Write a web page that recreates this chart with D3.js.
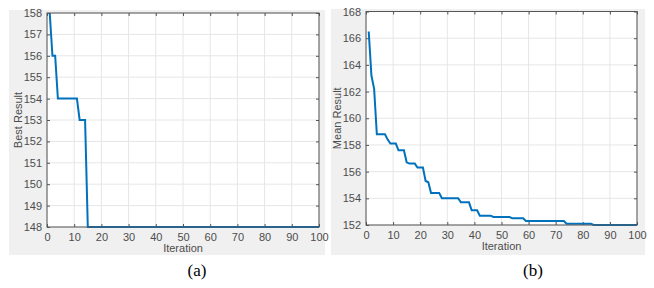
<!DOCTYPE html>
<html>
<head>
<meta charset="utf-8">
<script src="https://cdn.jsdelivr.net/npm/d3@7"></script>
<style>
  body { margin: 0; background: #fff; }
  svg text { font-family: Arial, "Liberation Sans", sans-serif; }
</style>
</head>
<body>
<div id="chart"></div>
<script>
const width = 654;
const height = 288;

// iteration numbers 1..100
const iterations = d3.range(1, 101);

// best result: step changes
const bestSteps = [[1, 158], [2, 156], [4, 154], [12, 153], [15, 148]];
// mean result: step changes
const meanSteps = [
  [1, 166.5], [2, 163.2], [3, 162.2], [4, 158.8], [8, 158.4], [9, 158.1],
  [12, 157.6], [15, 156.7], [16, 156.6], [19, 156.3], [22, 155.3], [23, 155.2],
  [24, 154.4], [28, 154.0], [35, 153.7], [39, 153.1], [42, 152.7], [47, 152.6],
  [54, 152.5], [59, 152.3], [74, 152.1], [84, 152.0]
];

const xTicks = d3.range(0, 101, 10);
const bestTicks = d3.range(148, 159, 1);
const meanTicks = d3.range(152, 169, 2);

function expand(steps) {
  return iterations.map(it => {
    let v = steps[0][1];
    steps.forEach(s => { if (it >= s[0]) v = s[1]; });
    return { it: it, v: v };
  });
}

const svg = d3.select("#chart").append("svg")
  .attr("width", width)
  .attr("height", height);

const panels = [
  { bg: [9, 10, 316, 245], plot: [47, 13, 319, 227], domain: [148, 158], ticks: bestTicks,
    data: expand(bestSteps), ylabel: "Best Result", ylabelX: 22, caption: "(a)", capX: 197 },
  { bg: [331, 9, 314, 246], plot: [366, 11.5, 637, 225], domain: [152, 168], ticks: meanTicks,
    data: expand(meanSteps), ylabel: "Mean Result", ylabelX: 341, caption: "(b)", capX: 533 }
];

panels.forEach(p => {
  const [l, t, r, b] = p.plot;
  const x = d3.scaleLinear().domain([0, 100]).range([l, r]);
  const y = d3.scaleLinear().domain(p.domain).range([b, t]);

  svg.append("rect")
    .attr("x", p.bg[0]).attr("y", p.bg[1])
    .attr("width", p.bg[2]).attr("height", p.bg[3])
    .attr("fill", "#f0f0f0");

  const g = svg.append("g");
  g.append("rect")
    .attr("x", l).attr("y", t)
    .attr("width", r - l).attr("height", b - t)
    .attr("fill", "#fff");

  // grid
  g.append("g").selectAll("line").data(xTicks).enter().append("line")
    .attr("x1", d => x(d)).attr("x2", d => x(d))
    .attr("y1", t).attr("y2", b)
    .attr("stroke", "#e6e6e6");
  g.append("g").selectAll("line").data(p.ticks).enter().append("line")
    .attr("x1", l).attr("x2", r)
    .attr("y1", d => y(d)).attr("y2", d => y(d))
    .attr("stroke", "#e6e6e6");

  // axes with inward ticks
  const axStyle = a => a.call(s => {
    s.select(".domain").remove();
    s.selectAll(".tick line").attr("stroke", "#555");
    s.selectAll(".tick text").attr("fill", "#4d4d4d").style("font-size", "11px");
  });
  g.append("g").attr("transform", `translate(0,${b})`)
    .call(d3.axisBottom(x).tickValues(xTicks).tickSizeInner(-3).tickSizeOuter(0).tickPadding(6))
    .call(axStyle);
  g.append("g").attr("transform", `translate(${l},0)`)
    .call(d3.axisLeft(y).tickValues(p.ticks).tickSizeInner(-3).tickSizeOuter(0).tickPadding(5))
    .call(axStyle);
  g.append("g").attr("transform", `translate(0,${t})`)
    .call(d3.axisTop(x).tickValues(xTicks).tickSizeInner(-3).tickSizeOuter(0).tickFormat(""))
    .call(axStyle);
  g.append("g").attr("transform", `translate(${r},0)`)
    .call(d3.axisRight(y).tickValues(p.ticks).tickSizeInner(-3).tickSizeOuter(0).tickFormat(""))
    .call(axStyle);

  // line
  const line = d3.line().x(d => x(d.it)).y(d => y(d.v));
  g.append("path")
    .datum(p.data)
    .attr("d", line)
    .attr("fill", "none")
    .attr("stroke", "#0072bd")
    .attr("stroke-width", 2);

  g.append("rect")
    .attr("x", l).attr("y", t)
    .attr("width", r - l).attr("height", b - t)
    .attr("fill", "none")
    .attr("stroke", "#555")
    .attr("stroke-width", 1);

  // labels
  g.append("text")
    .attr("x", (l + r) / 2).attr("y", b + 25)
    .attr("text-anchor", "middle")
    .attr("fill", "#4d4d4d")
    .style("font-size", "11px")
    .text("Iteration");
  g.append("text")
    .attr("transform", `translate(${p.ylabelX},${(t + b) / 2}) rotate(-90)`)
    .attr("text-anchor", "middle")
    .attr("fill", "#4d4d4d")
    .style("font-size", "11px")
    .text(p.ylabel);

  svg.append("text")
    .attr("x", p.capX).attr("y", 276)
    .attr("text-anchor", "middle")
    .attr("fill", "#000")
    .style("font-family", "'Liberation Serif', 'Times New Roman', serif")
    .style("font-size", "17px")
    .text(p.caption);
});
</script>
</body>
</html>
